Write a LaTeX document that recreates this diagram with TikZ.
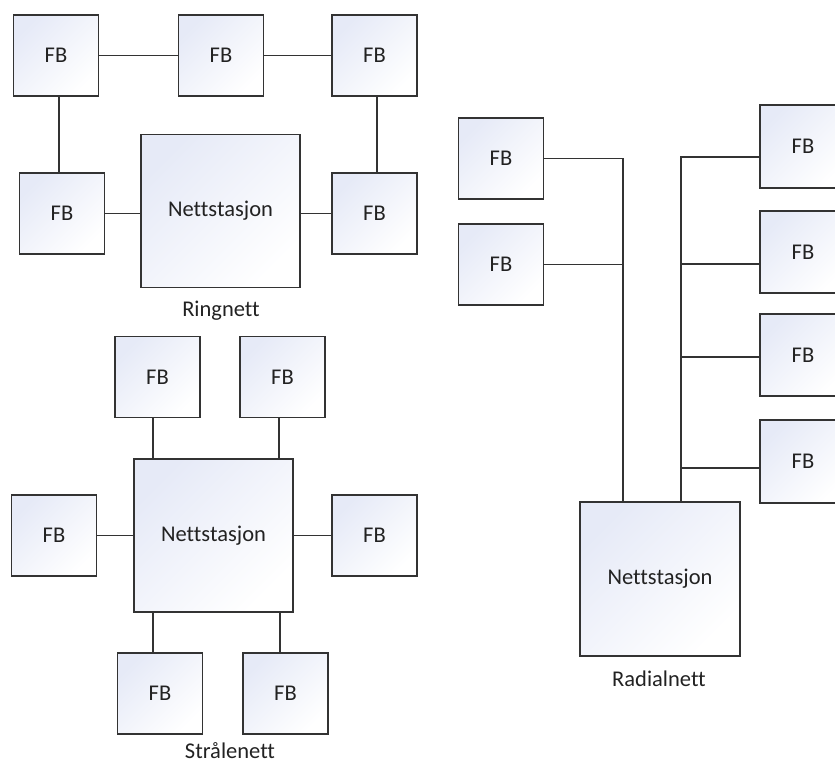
\documentclass[tikz,border=0pt]{standalone}
\usepackage{fontspec}
\setmainfont{Carlito}[Ligatures=NoCommon]
\definecolor{linec}{HTML}{333333}
\definecolor{fillc}{HTML}{E6EAF7}
\definecolor{textc}{HTML}{222222}
\begin{document}
\begin{tikzpicture}[x=1pt,y=-1pt,
  box/.style={draw=linec, line width=1.3pt, top color=fillc, bottom color=white,
    shading angle=45, minimum width=85pt, minimum height=81pt, inner sep=0pt,
    text=textc, font=\fontsize{22.5}{26}\selectfont},
  ns/.style={box, minimum width=159pt, minimum height=153pt},
  wire/.style={draw=linec, line width=1.3pt},
  lbl/.style={text=textc, font=\fontsize{22.5}{26}\selectfont, inner sep=0pt}]
\useasboundingbox (0,0) rectangle (835,763);
\clip (0,0) rectangle (835,763);
% Ringnett
\node[box] (A1) at (56,55.5) {FB};
\node[box] (A2) at (221,55.5) {FB};
\node[box] (A3) at (374.5,55.5) {FB};
\node[box] (A4) at (62,213.5) {FB};
\node[ns] (AN) at (220.5,211) {Nettstasjon};
\node[box] (A5) at (374.5,213.5) {FB};
\node[lbl] (AL) at (221,311) {Ringnett};
\draw[wire] (A1) -- (A2);
\draw[wire] (A2) -- (A3);
\draw[wire] (A1.south -| 59,0) -- (A4.north -| 59,0);
\draw[wire] (A3.south -| 377,0) -- (A5.north -| 377,0);
\draw[wire] (A4.east) -- (A4.east -| AN.west);
\draw[wire] (A5.west) -- (A5.west -| AN.east);
% Strålenett
\node[box] (B1) at (157.5,377) {FB};
\node[box] (B2) at (282.5,377) {FB};
\node[ns] (BN) at (213.5,535.5) {Nettstasjon};
\node[box] (B3) at (54,535.5) {FB};
\node[box] (B4) at (374.5,535.5) {FB};
\node[box] (B5) at (160,693.5) {FB};
\node[box] (B6) at (285.5,693.5) {FB};
\node[lbl] (BL) at (230,751) {Strålenett};
\draw[wire] (B1.south -| 153,0) -- (BN.north -| 153,0);
\draw[wire] (B2.south -| 279,0) -- (BN.north -| 279,0);
\draw[wire] (B3) -- (BN);
\draw[wire] (B4) -- (BN);
\draw[wire] (B5.north -| 153,0) -- (BN.south -| 153,0);
\draw[wire] (B6.north -| 280,0) -- (BN.south -| 280,0);
% Radialnett
\node[box] (C1) at (501,158.5) {FB};
\node[box] (C2) at (501,264.5) {FB};
\node[box, minimum width=86pt, minimum height=83pt] (R1) at (803,146.5) {FB};
\node[box, minimum width=86pt, minimum height=82pt] (R2) at (803,252) {FB};
\node[box, minimum width=86pt, minimum height=82pt] (R3) at (803,355) {FB};
\node[box, minimum width=86pt, minimum height=83pt] (R4) at (803,461.5) {FB};
\node[ns, minimum width=160pt, minimum height=154pt] (CN) at (660,579) {Nettstasjon};
\node[lbl] (CL) at (659,679) {Radialnett};
\draw[wire] (C1.east) -- (C1.east -| 623,0) -- (CN.north -| 623,0);
\draw[wire] (C2.east) -- (C2.east -| 623,0);
\draw[wire] (CN.north -| 681,0) -- (681,157) -- (R1.west |- 0,157);
\draw[wire] (681,264) -- (R2.west |- 0,264);
\draw[wire] (681,357) -- (R3.west |- 0,357);
\draw[wire] (681,468) -- (R4.west |- 0,468);
\end{tikzpicture}
\end{document}
